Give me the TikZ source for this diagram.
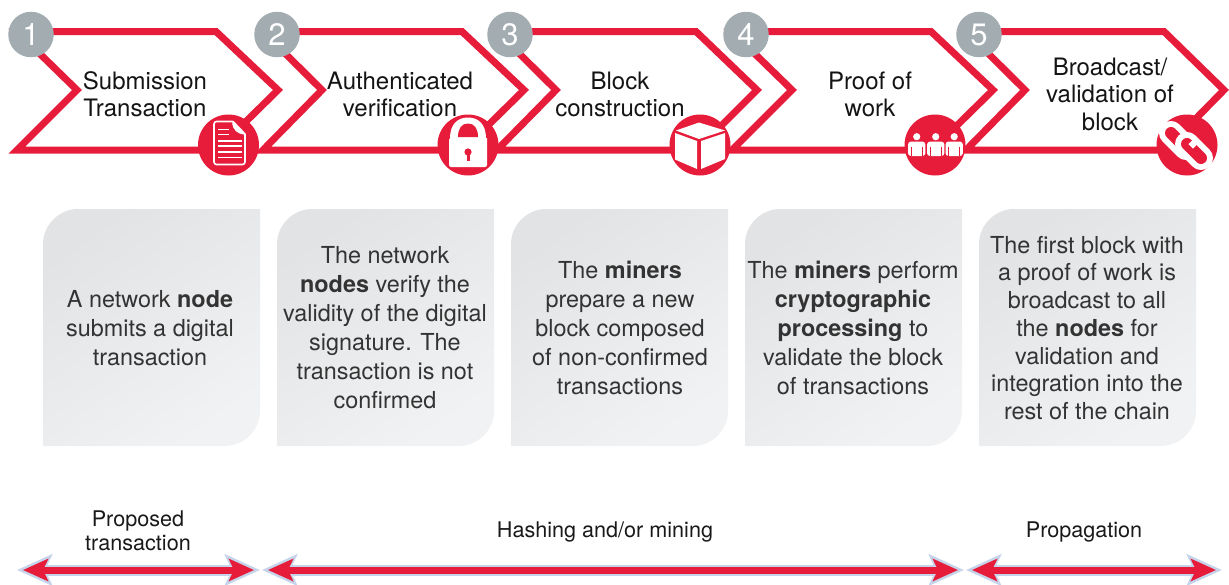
\documentclass[tikz,border=0pt]{standalone}
\usepackage{fontspec}
\setmainfont{TeX Gyre Heros}
\usetikzlibrary{arrows.meta}
\definecolor{chred}{HTML}{E61C3A}
\definecolor{numgrey}{HTML}{A2ACB1}
\definecolor{halo}{HTML}{C5D4EA}
\definecolor{boxa}{HTML}{E2E3E5}
\definecolor{boxb}{HTML}{F1F2F3}
\definecolor{bodytxt}{HTML}{333333}
\tikzset{
  x=1pt,y=-1pt,
  chevron/.style={draw=chred,line width=7pt,miter limit=10,line join=miter},
  numdot/.style={circle,fill=numgrey,minimum size=45.5pt,inner sep=0pt,text=white,font=\fontsize{31}{31}\selectfont},
  icondot/.style={circle,fill=chred,minimum size=61pt,inner sep=0pt},
  title/.style={align=center,inner sep=0pt,text=black!92,font=\fontsize{24}{27.4}\selectfont},
  cardtxt/.style={align=center,inner sep=0pt,text=bodytxt,font=\fontsize{23.4}{29}\selectfont},
  cardtxtb/.style={align=center,inner sep=0pt,text=bodytxt,font=\fontsize{23.4}{27.7}\selectfont},
  phase/.style={align=center,inner sep=0pt,text=black!90,font=\fontsize{21.6}{24}\selectfont},
  card/.style={top color=boxa,bottom color=boxb,shading angle=35},
  spanhalo/.style={draw=halo,line width=11pt,{Stealth[length=35pt,width=31pt,inset=7pt]}-{Stealth[length=35pt,width=31pt,inset=7pt]}},
  spanred/.style={draw=chred,line width=7pt,shorten <=6pt,shorten >=6pt,{Stealth[length=25pt,width=22pt,inset=5pt]}-{Stealth[length=25pt,width=22pt,inset=5pt]}},
}
\begin{document}
\begin{tikzpicture}
\useasboundingbox (0,0) rectangle (1229,584);
% cards
\foreach \x in {43,277,511,745,979}{
  \shade[card,shift={(\x,0)}] (0,446) -- (0,244) .. controls (0,225) and (16,209) .. (35,209) -- (217,209) -- (217,411) .. controls (217,430) and (201,446) .. (182,446) -- cycle;
}
% chevrons
\foreach \l/\n/\t/\p in {17/77/216/278,263/322/462/524,497/556/696/757,732/792/931/993,966/1025/1164/1224}{
  \draw[chevron] (\l,31.5) -- (\t,31.5) -- (\p,90) -- (\t+1,150) -- (\l,150) -- (\n,90) -- cycle;
}
% numbers
\node[numdot] (n1) at (31,34.5) {1};
\node[numdot] (n2) at (277,34.5) {2};
\node[numdot] (n3) at (510,34.5) {3};
\node[numdot] (n4) at (746,34.5) {4};
\node[numdot] (n5) at (979,34.5) {5};
% icon discs
\node[icondot] (i1) at (228.5,145) {};
\node[icondot] (i2) at (468,145) {};
\node[icondot] (i3) at (700,145) {};
\node[icondot] (i4) at (935,145) {};
\node[icondot] (i5) at (1187,145) {};
% document icon
\draw[white,line width=1.6pt,line join=round,rounded corners=2.5pt] (233,121.5) -- (214,121.5) -- (214,164.5) -- (245,164.5) -- (245,134);
\draw[white,line width=1.6pt,line join=round] (233,121.5) -- (245,134) .. controls (238,133) and (233,130) .. (233,121.5);
\fill[white] (233,121.5) -- (245,134) .. controls (238,133) and (233,130) .. cycle;
\foreach \yy/\xe in {129.3/229,134.3/229,141/241.5,146.2/241.5,151.7/241.5,157.6/241.5}{
  \draw[white,line width=1.6pt] (218,\yy) -- (\xe,\yy);
}
% lock icon
\fill[white] (449,167) [rounded corners=2pt] -- (449,138) [sharp corners] -- (450,138) .. controls (450,124) and (458,117.5) .. (468,117.5) .. controls (478,117.5) and (486,124) .. (486,138) -- (487,138) [rounded corners=2pt] -- (487,167) -- cycle;
\fill[chred] (458,137) .. controls (458,128) and (462,123.5) .. (468,123.5) .. controls (474,123.5) and (478,128) .. (478,137) -- cycle;
\fill[chred] (468,152) circle[radius=3.6pt];
\fill[chred] (466.5,152) -- (469.5,152) -- (469.5,161) -- (466.5,161) -- cycle;
% cube icon
\fill[white] (699,122.5) -- (676,130.5) -- (699,139) -- (725,130.5) -- cycle;
\fill[white] (675,133) -- (697,141) -- (697,169) -- (675,159.5) -- cycle;
\fill[white] (701,141) -- (725,133) -- (725,159) -- (701,169) -- cycle;
% people icon
\foreach \cx in {916.7,935.7,954.2}{
  \fill[white] (\cx,136.7) circle[radius=3.6pt];
  \fill[white,rounded corners=3pt] (\cx-8.7,156) -- (\cx-8.7,141.6) -- (\cx+8.7,141.6) -- (\cx+8.7,156) -- cycle;
  \draw[chred,line width=.8pt] (\cx-5.6,147) -- (\cx-5.6,156) (\cx+5.6,147) -- (\cx+5.6,156);
}
% chain icon
\draw[white,line width=24pt,line cap=round] (1171,133) -- (1186,148);
\draw[chred,line width=12pt,line cap=round] (1171,133) -- (1186,148);
\draw[white,line width=24pt,line cap=round] (1187,144) -- (1201,158);
\draw[chred,line width=12pt,line cap=round] (1187,144) -- (1201,158);
\draw[white,line width=6pt] (1190.5,142) -- (1195,146.5);
% step titles
\node[title] (t1) at (145,94.3) {Submission\\Transaction};
\node[title] (t2) at (400,94.3) {Authenticated\\verification};
\node[title] (t3) at (620,94.3) {Block\\construction};
\node[title] (t4) at (870,94.3) {Proof of\\work};
\node[title] (t5) at (1110,94.3) {Broadcast/\\validation of\\block};
% card text
\node[cardtxt] (c1) at (150,328) {A network \textbf{node}\\submits a digital\\transaction};
\node[cardtxt] (c2) at (385,328) {The network\\\textbf{nodes} verify the\\validity of the digital\\signature. The\\transaction is not\\confirmed};
\node[cardtxt] (c3) at (620,328) {The \textbf{miners}\\prepare a new\\block composed\\of non-confirmed\\transactions};
\node[cardtxt] (c4) at (853,328) {The \textbf{miners} perform\\\textbf{cryptographic}\\\textbf{processing} to\\validate the block\\of transactions};
\node[cardtxtb] (c5) at (1087,328) {The first block with\\a proof of work is\\broadcast to all\\the \textbf{nodes} for\\validation and\\integration into the\\rest of the chain};
% phases
\node[phase] (p1) at (138,531) {Proposed\\transaction};
\node[phase] (p2) at (605,532) {Hashing and/or mining};
\node[phase] (p3) at (1084,532) {Propagation};
\coordinate (a1l) at (17,570);
\coordinate (a1r) at (260,570);
\coordinate (a2l) at (262,570);
\coordinate (a2r) at (964,570);
\coordinate (a3l) at (966,570);
\coordinate (a3r) at (1222,570);
\foreach \a/\b in {a1l/a1r,a2l/a2r,a3l/a3r}{
  \draw[spanhalo] (\a) -- (\b);
  \draw[spanred] (\a) -- (\b);
}
\end{tikzpicture}
\end{document}
